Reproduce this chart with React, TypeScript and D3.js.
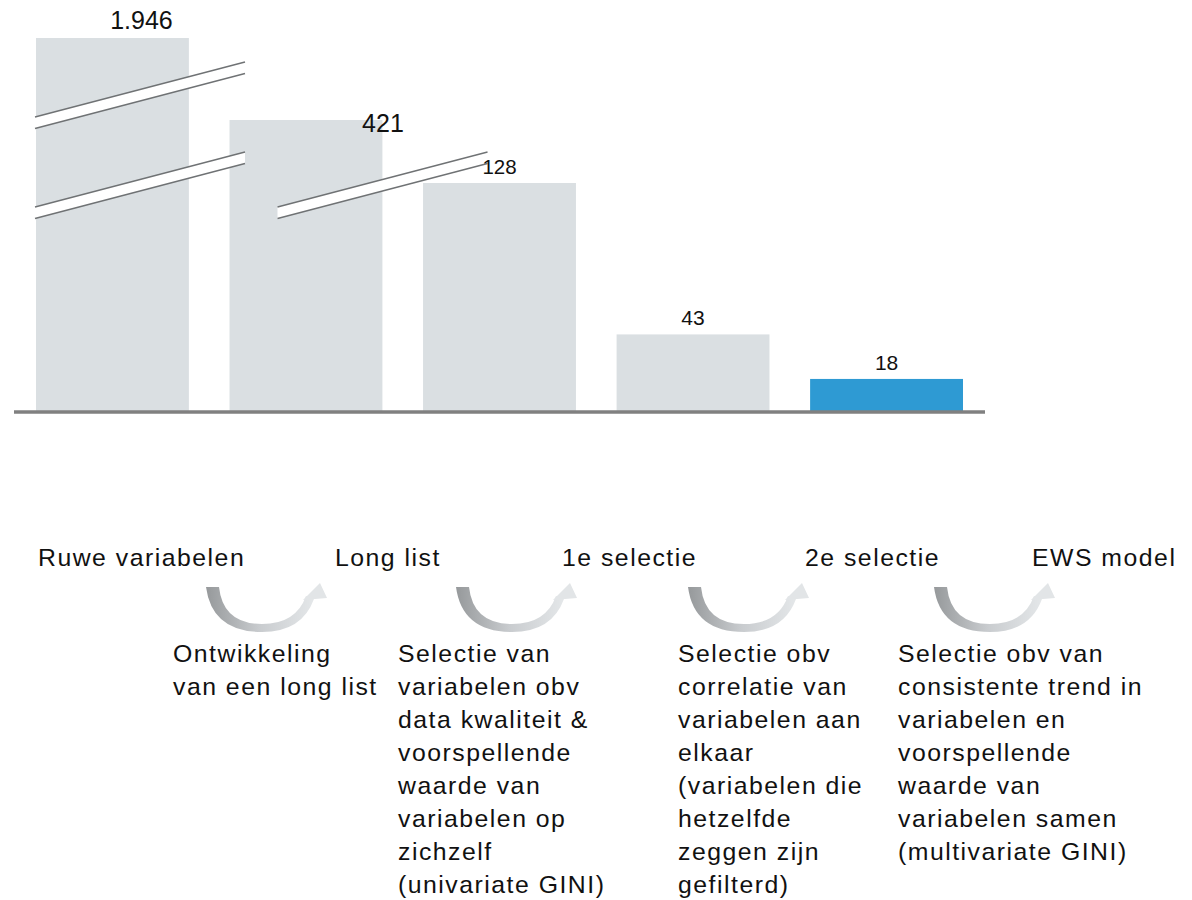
import React from "react";
import * as d3 from "d3";

// stappen in het selectieproces
const stages = ["Ruwe variabelen", "Long list", "1e selectie", "2e selectie", "EWS model"];
const counts = [1946, 421, 128, 43, 18];
const countLabels = ["1.946", "421", "128", "43", "18"];

const steps = [
  ["Ontwikkeling", "van een long list"],
  [
    "Selectie van",
    "variabelen obv",
    "data kwaliteit &",
    "voorspellende",
    "waarde van",
    "variabelen op",
    "zichzelf",
    "(univariate GINI)",
  ],
  [
    "Selectie obv",
    "correlatie van",
    "variabelen aan",
    "elkaar",
    "(variabelen die",
    "hetzelfde",
    "zeggen zijn",
    "gefilterd)",
  ],
  [
    "Selectie obv van",
    "consistente trend in",
    "variabelen en",
    "voorspellende",
    "waarde van",
    "variabelen samen",
    "(multivariate GINI)",
  ],
];

const W = 1192;
const H = 900;
const baseY = 411;
const font = "'Liberation Sans', Arial, sans-serif";

// layout of the lower half (not data)
const stageX = [38, 335, 562, 805, 1032];
const stepX = [173, 398, 678, 898];
const arrowX = [206, 456, 688, 934];

const App = () => {
  const x = d3.scaleBand<string>().domain(stages).range([36, 963]).paddingInner(0.21).paddingOuter(0);

  // broken axis: the two biggest bars are compressed
  const y = d3.scaleLinear().domain([0, 128, 421, 1946]).range([baseY, 183, 120, 38]);

  const labelShift = [
    { dx: 29, dy: 0, size: 25 },
    { dx: 77, dy: 21, size: 25 },
    { dx: 0, dy: 0, size: 20.5 },
    { dx: 0, dy: 0, size: 21 },
    { dx: 0, dy: 0, size: 21 },
  ];

  // break marks drawn over bars
  const x0 = x(stages[0])!;
  const x1 = x(stages[1])!;
  const breaks = [
    { left: x0 - 1, y: 117 },
    { left: x0 - 1, y: 207 },
    { left: x1 + 48, y: 207 },
  ];
  const len = 210;
  const rise = 55;
  const gap = 11.5;

  return (
    <svg width={W} height={H} style={{ position: "absolute", left: 0, top: 0, background: "#fff" }}>
      <defs>
        <linearGradient id="arc" x1="0" x2="1" y1="0" y2="0">
          <stop offset="0" stopColor="#96999b" />
          <stop offset="0.5" stopColor="#c9cccf" />
          <stop offset="1" stopColor="#e4e7e9" />
        </linearGradient>
      </defs>

      {counts.map((c, i) => (
        <rect
          key={stages[i]}
          x={x(stages[i])}
          y={y(c)}
          width={x.bandwidth()}
          height={baseY - y(c)}
          fill={i === counts.length - 1 ? "#2e9ad3" : "#dadfe2"}
        />
      ))}

      {breaks.map((b, i) => (
        <g key={i}>
          <polygon
            points={`${b.left},${b.y} ${b.left + len},${b.y - rise} ${b.left + len},${b.y - rise + gap} ${b.left},${b.y + gap}`}
            fill="#fff"
          />
          <line x1={b.left} y1={b.y} x2={b.left + len} y2={b.y - rise} stroke="#6f7274" strokeWidth={1.3} />
          <line
            x1={b.left}
            y1={b.y + gap}
            x2={b.left + len}
            y2={b.y - rise + gap}
            stroke="#6f7274"
            strokeWidth={1.3}
          />
        </g>
      ))}

      {counts.map((c, i) => (
        <text
          key={"l" + i}
          x={x(stages[i])! + x.bandwidth() / 2 + labelShift[i].dx}
          y={y(c) - 9 + labelShift[i].dy}
          textAnchor="middle"
          fontFamily={font}
          fontSize={labelShift[i].size}
          fill="#111"
        >
          {countLabels[i]}
        </text>
      ))}

      <line x1={14} x2={985} y1={baseY + 1} y2={baseY + 1} stroke="#808080" strokeWidth={3.5} />

      {stages.map((s, i) => (
        <text
          key={"s" + i}
          x={stageX[i]}
          y={566}
          fontFamily={font}
          fontSize={24.8}
          letterSpacing={1.5}
          fill="#111"
        >
          {s}
        </text>
      ))}

      {arrowX.map((ax, i) => (
        <g key={"a" + i} transform={`translate(${ax},0)`}>
          <path
            d={`M0,587 Q6,632 56,632 Q96,632 108,599 L100,596 Q90,624 56,624 Q17,624 13,587 Z`}
            fill="url(#arc)"
          />
          <polygon points="97,600 121,598 114,583" fill="#e2e5e7" />
        </g>
      ))}

      {steps.map((lines, i) => (
        <text key={"d" + i} fontFamily={font} fontSize={24.8} letterSpacing={1.5} fill="#111">
          {lines.map((t, j) => (
            <tspan key={j} x={stepX[i]} y={662 + j * 33}>
              {t}
            </tspan>
          ))}
        </text>
      ))}
    </svg>
  );
};

export default App;
